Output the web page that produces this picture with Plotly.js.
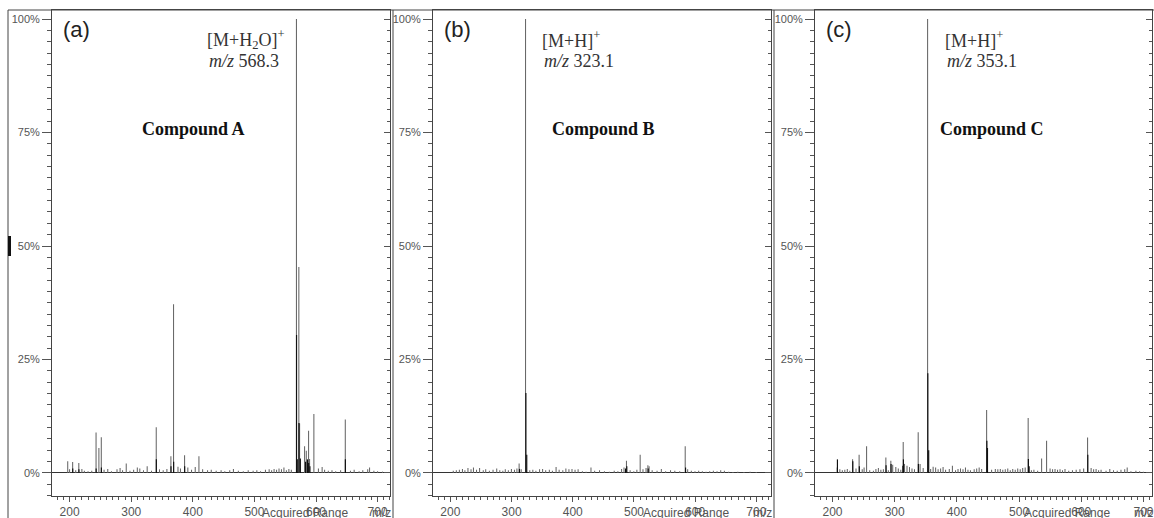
<!DOCTYPE html>
<html><head><meta charset="utf-8">
<script src="https://cdn.plot.ly/plotly-3.0.1.min.js"></script>
<style>html,body{margin:0;padding:0;background:#fff}#chart{width:1154px;height:518px}</style>
</head><body><div id="chart"></div>
<script>
// ---------- DATA (m/z, relative intensity %) ----------
const yTickVals = [0, 25, 50, 75, 100];
const yTickText = ['0%', '25%', '50%', '75%', '100%'];
const xTickVals = [200, 300, 400, 500, 600, 700];

// Panel (a) Compound A
const mzA  = [197,205,215,243,247.6,251.5,292,340.7,364.5,368.8,386.7,410,568.3,572.2,573.4,581.5,584.3,588,589.6,596.6,647.6,
  200,210,220,224,230,236,256,262,268,277,282,286,298,304,310,314,320,326,333,346,352,358,376,380,392,398,404,416,424,430,438,446,452,460,466,474,482,490,498,504,510,518,524,528,532,536,540,544,548,552,556,560,604,610,614,620,626,632,640,656,662,670,676,684,687,694,700,708];
const intA = [2.6,2.4,2.2,8.9,5.5,7.9,2.1,10.1,3.7,37.2,3.9,3.7,100,45.4,10.9,5.9,4.9,9.3,3.1,13,11.8,
  0.8,0.6,0.9,0.5,0.4,0.5,0.7,0.9,0.4,0.8,1.1,0.6,0.5,0.7,1.2,1.0,0.6,1.5,0.5,0.8,0.6,0.9,1.4,1.0,1.2,0.7,1.3,0.8,0.6,0.7,0.5,0.6,0.4,0.6,0.9,0.5,0.4,0.6,0.5,0.6,0.4,0.7,0.8,0.6,0.9,0.7,1.0,0.8,1.2,0.6,0.9,0.7,1.0,1.3,0.7,0.5,0.6,0.4,0.6,0.5,0.7,0.4,0.6,0.8,1.2,0.5,0.4,0.3];
const mzA_dark  = [205,215,243,251.5,340.7,364.5,368.8,386.7,568.3,569.5,572.2,574.5,583,586,588,590,647.6];
const intA_dark = [1.0,0.8,1.0,1.2,3.0,1.5,2.5,1.5,30.4,3.0,11,3.2,2.5,3.0,2.2,1.5,3.0];

// Panel (b) Compound B
const mzB  = [312.6,323.1,488,510.4,523,525,584,
  205,210,215,220,224,229,234,238,243,248,254,258,264,270,276,281,286,290,295,300,305,309,316,330,335,340,346,351,356,362,367,373,378,384,389,394,399,404,409,416,422,430,436,444,452,460,468,474,480,484,494,500,505,515,520,530,538,545,552,560,567,575,588,594,600,606,612,618,624,630,636,642,648,655,662,670,680,690,700];
const intB = [2.1,100,2.7,4.0,1.7,1.5,5.9,
  0.5,0.6,0.7,0.9,0.6,1.1,0.8,1.2,0.7,1.1,0.6,0.8,0.5,0.7,1.0,0.6,0.5,0.8,0.6,0.9,0.7,1.0,0.8,0.6,0.7,0.5,0.8,0.9,0.6,0.7,0.5,1.3,0.7,0.6,1.0,0.8,0.9,0.7,0.8,0.4,0.3,1.2,0.5,0.6,0.4,0.3,0.5,0.4,0.9,1.2,0.6,0.4,0.7,0.8,1.1,0.6,0.5,0.9,0.4,0.6,0.5,0.4,0.8,0.5,0.4,0.5,0.4,0.3,0.4,0.5,0.4,0.6,0.5,0.3,0.2,0.3,0.2,0.3,0.2];
const mzB_dark  = [312.6,323.1,324.5,486,488,523,584];
const intB_dark = [0.9,17.6,4.0,1.0,1.5,1.0,1.2];

// Panel (c) Compound C
const mzC  = [207.8,232.5,243,255,286,294,297,313.9,316,320,338,341,353.1,393,448,514.8,536.4,544.4,610.3,
  212,216,220,224,228,238,248,251,260,266,270,274,278,282,290,302,306,310,324,328,332,346,358,362,366,370,374,378,382,388,398,402,406,410,414,418,422,428,432,436,440,456,462,466,470,474,478,482,486,490,494,498,502,506,510,520,524,530,550,554,558,562,566,570,574,580,586,592,598,604,616,620,624,628,632,640,646,652,658,664,670,674,680,688,694,700];
const intC = [1.2,3.0,4.0,5.9,3.4,2.7,1.8,6.8,2.0,1.6,9.0,2.0,100,1.6,13.9,12.1,3.2,7.1,7.8,
  0.8,0.6,0.7,0.9,0.5,1.0,0.8,1.2,0.6,0.5,0.9,1.1,0.7,0.8,0.6,1.3,1.0,0.7,1.3,1.0,0.8,1.1,0.9,1.4,1.2,0.8,1.0,1.3,0.7,0.9,0.6,0.9,1.0,0.8,1.2,0.7,0.6,0.8,1.0,1.2,0.9,0.7,0.9,0.8,0.9,0.7,0.8,1.0,0.6,0.9,0.7,1.0,0.8,1.1,1.2,0.6,0.7,0.5,1.0,0.8,0.9,0.7,0.8,0.6,0.9,0.5,0.6,0.7,0.8,1.0,1.1,0.8,0.9,0.6,0.7,0.5,0.9,0.6,0.5,0.7,0.8,1.2,0.4,0.5,0.4,0.3];
const mzC_dark  = [207.8,232.5,243,286,294,313,313.9,338,353.1,354.5,448,449,514.8,516,610.3];
const intC_dark = [3.0,2.6,1.5,1.7,2.0,1.6,3.0,2.0,22,5.0,7.1,5.5,3.1,1.5,4.0];

// ---------- LAYOUT ----------
const W = 1154, H = 518;
const px = x => x / W, py = y => 1 - y / H;
const SANS = 'Liberation Sans, Arial, sans-serif';
const SERIF = 'Liberation Serif, Times New Roman, serif';
const GREY = '#555555';

const panels = [
  {mz: mzA, it: intA, mzD: mzA_dark, itD: intA_dark, x0: 52, x1: 390, range: [171.4, 720.1], frame: 8,
   letter: '(a)', ion: '[M+H<sub>2</sub>O]<sup>+</sup>', mzLabel: '<i>m/z</i> 568.3', ionX: 207, comp: 'Compound A', compX: 193},
  {mz: mzB, it: intB, mzD: mzB_dark, itD: intB_dark, x0: 433, x1: 771, range: [171.6, 723.9], frame: 393,
   letter: '(b)', ion: '[M+H]<sup>+</sup>', mzLabel: '<i>m/z</i> 323.1', ionX: 542, comp: 'Compound B', compX: 603},
  {mz: mzC, it: intC, mzD: mzC_dark, itD: intC_dark, x0: 815, x1: 1152, range: [171.9, 713.7], frame: 774,
   letter: '(c)', ion: '[M+H]<sup>+</sup>', mzLabel: '<i>m/z</i> 353.1', ionX: 945, comp: 'Compound C', compX: 992}
];

const yDomain = [(H - 496) / H, (H - 10) / H];
const yRange = [-5.07, 102.0];

const data = [];
const layout = {
  width: W, height: H, margin: {l: 0, r: 0, t: 0, b: 0},
  paper_bgcolor: '#fff', plot_bgcolor: '#fff', showlegend: false,
  font: {family: SANS, color: GREY},
  annotations: [], shapes: []
};

panels.forEach((p, i) => {
  const n = i + 1;
  const xs = n === 1 ? '' : String(n);
  const xa = 'x' + xs, ya = 'y' + xs;
  data.push({type: 'bar', x: p.mz, y: p.it, xaxis: xa, yaxis: ya, width: 1.7,
    marker: {color: '#666', line: {width: 0}}, hoverinfo: 'x+y'});
  data.push({type: 'bar', x: p.mzD, y: p.itD, xaxis: xa, yaxis: ya, width: 1.9,
    marker: {color: '#111', line: {width: 0}}, hoverinfo: 'x+y'});

  layout['xaxis' + xs] = {
    domain: [px(p.x0), px(p.x1)], range: p.range, anchor: ya, color: GREY,
    showline: true, linecolor: '#444', linewidth: 1, mirror: true,
    showgrid: false, zeroline: false,
    tickvals: xTickVals, ticks: 'outside', ticklen: 5, tickcolor: GREY,
    minor: {dtick: 10, tick0: 0, ticks: 'outside', ticklen: 3, tickcolor: GREY},
    tickfont: {family: SANS, size: 12, color: GREY}
  };
  layout['yaxis' + xs] = {
    domain: yDomain, range: yRange, anchor: xa, color: GREY,
    showline: true, linecolor: '#444', linewidth: 1, mirror: true,
    showgrid: false, zeroline: true, zerolinecolor: '#333', zerolinewidth: 1,
    tickvals: yTickVals, ticktext: yTickText, ticks: 'outside', ticklen: 9, tickcolor: GREY,
    minor: {dtick: 2.5, tick0: 0, ticks: 'outside', ticklen: 4, tickcolor: GREY},
    tickfont: {family: SANS, size: 11, color: GREY}
  };
  // right-hand inner ticks
  const rs = String(n + 3);
  layout['yaxis' + rs] = {
    overlaying: ya, side: 'right', anchor: xa, range: yRange, color: GREY,
    showline: false, showgrid: false, zeroline: false, showticklabels: false,
    tickvals: yTickVals, ticks: 'inside', ticklen: 6, tickcolor: GREY,
    minor: {dtick: 2.5, tick0: 0, ticks: 'inside', ticklen: 3, tickcolor: GREY}
  };
  data.push({type: 'scatter', x: [p.range[0]], y: [-100], xaxis: xa, yaxis: 'y' + rs,
    mode: 'markers', marker: {opacity: 0}, hoverinfo: 'skip'});

  // frame left line
  layout.shapes.push({type: 'line', xref: 'paper', yref: 'paper',
    x0: px(p.frame), x1: px(p.frame), y0: py(10), y1: 0, line: {color: '#444', width: 1}});

  const ann = layout.annotations;
  ann.push({xref: 'paper', yref: 'paper', x: px(p.x0 + 24), y: py(29), xanchor: 'center', yanchor: 'middle',
    text: p.letter, showarrow: false, font: {family: SANS, size: 22, color: '#222'}});
  ann.push({xref: 'paper', yref: 'paper', x: px(p.ionX - 2), y: py(40), xanchor: 'left', yanchor: 'middle',
    text: p.ion, showarrow: false, font: {family: SERIF, size: 18, color: '#333'}});
  ann.push({xref: 'paper', yref: 'paper', x: px(p.ionX), y: py(61), xanchor: 'left', yanchor: 'middle',
    text: p.mzLabel, showarrow: false, font: {family: SERIF, size: 18, color: '#333'}});
  ann.push({xref: 'paper', yref: 'paper', x: px(p.compX), y: py(129), xanchor: 'center', yanchor: 'middle',
    text: '<b>' + p.comp + '</b>', showarrow: false, font: {family: SERIF, size: 18, color: '#111'}});
  ann.push({xref: 'paper', yref: 'paper', x: px(p.x1 - 85), y: py(513), xanchor: 'center', yanchor: 'middle',
    text: 'Acquired Range', showarrow: false, font: {family: SANS, size: 12, color: GREY}});
  ann.push({xref: 'paper', yref: 'paper', x: px(p.x1 - 9), y: py(513), xanchor: 'center', yanchor: 'middle',
    text: 'm/z', showarrow: false, font: {family: SANS, size: 12, color: GREY}});
});

// top frame line and selection marker
layout.shapes.push({type: 'line', xref: 'paper', yref: 'paper', x0: px(8), x1: 1, y0: py(10), y1: py(10),
  line: {color: '#444', width: 1}});
layout.shapes.push({type: 'rect', xref: 'paper', yref: 'paper', x0: px(8), x1: px(11), y0: py(236), y1: py(256),
  line: {width: 0}, fillcolor: '#111'});

Plotly.newPlot('chart', data, layout, {staticPlot: true, displayModeBar: false});
</script>
</body></html>
